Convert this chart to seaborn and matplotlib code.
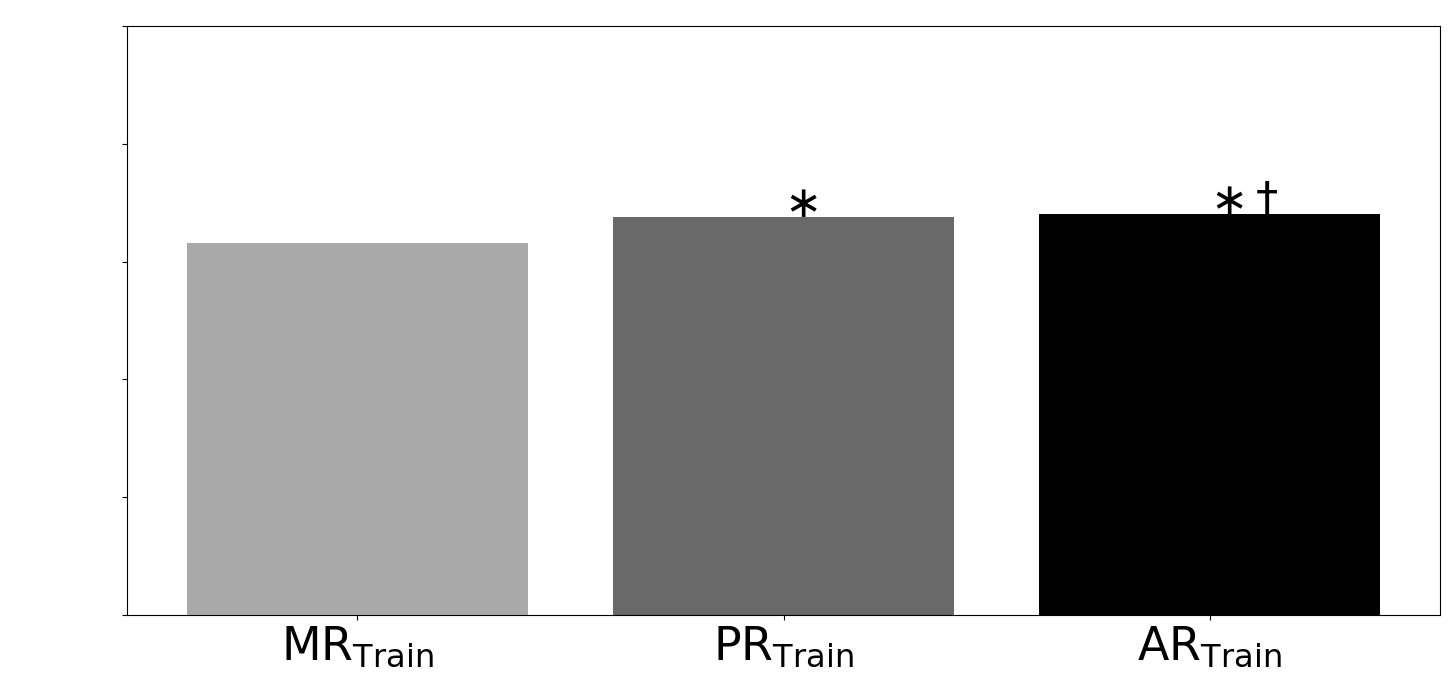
import numpy as np
import pandas as pd
import seaborn as sns
import matplotlib
matplotlib.use("Agg")
import matplotlib.pyplot as plt

# data
groups = ["MR", "PR", "AR"]
scores = [0.632, 0.675, 0.681]
bar_colors = ["#a9a9a9", "#696969", "#000000"]
marks = ["", r"$\ast$", r"$\ast\dagger$"]

df = pd.DataFrame({"group": groups, "score": scores})

fig = plt.figure(figsize=(14.5, 6.81), dpi=100)
ax = fig.add_axes([0.0876, 0.0969, 0.9055, 0.8649])

sns.barplot(data=df, x="group", y="score", hue="group", palette=bar_colors,
            saturation=1, width=0.8, legend=False, ax=ax)

# significance marks, left-aligned at bar centre, sitting on the bar
for i, (v, m) in enumerate(zip(scores, marks)):
    if m:
        ax.text(i, v, m, ha="left", va="baseline", fontsize=32)

ax.set_xlim(-0.54, 2.54)
ax.set_ylim(0, 1)
ax.set_yticks(np.arange(0, 1.01, 0.2))
ax.set_yticklabels([])
ax.set_xticks(range(len(groups)))
ax.set_xticklabels([r"$\mathrm{%s}_{\mathrm{Train}}$" % g for g in groups], fontsize=33)
ax.set_xlabel("")
ax.set_ylabel("")

fig.savefig("out.png", dpi=100)
